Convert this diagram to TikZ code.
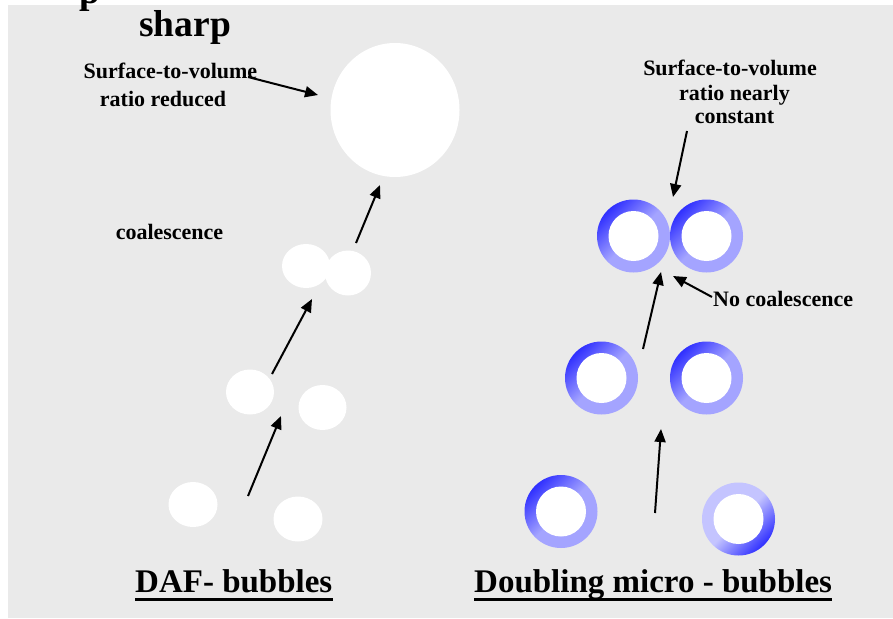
\documentclass[tikz,border=0pt]{standalone}
\usepackage{fontspec}
\setmainfont{Liberation Serif}
\usetikzlibrary{arrows.meta,shapes.geometric}
\definecolor{panel}{HTML}{EAEAEA}
\definecolor{ringdark}{HTML}{3030FF}
\definecolor{ringlight}{HTML}{A4A4FF}
\definecolor{ringpale}{HTML}{C4C4FF}
\begin{document}
\begin{tikzpicture}[x=1pt,y=-1pt,
  lbl/.style={inner sep=0pt, anchor=base, font=\bfseries\fontsize{22}{26}\selectfont},
  heading/.style={inner sep=0pt, anchor=base west, font=\bfseries\fontsize{33}{40}\selectfont},
  bubble/.style={ellipse, fill=white, draw=none, inner sep=0pt},
  ring/.style={circle, inner sep=0pt, minimum size=73pt, top color=ringdark,
    bottom color=ringlight, middle color=ringlight, shading angle=45},
  ringflip/.style={circle, inner sep=0pt, minimum size=73pt, top color=ringdark,
    bottom color=ringpale, middle color=ringpale, shading angle=225},
  arr/.style={line width=2pt, -{Triangle[length=13pt,width=11pt]}},
  uline/.style={line width=3pt}]
\useasboundingbox (0,0) rectangle (893,618);
\fill[panel] (8,5) rectangle (893,618);

% heading remnants
\node[inner sep=0pt, anchor=base west, font=\bfseries\fontsize{37.5}{40}\selectfont] (ptail) at (79,4) {p};
\node[inner sep=0pt, anchor=base west, font=\bfseries\fontsize{37.5}{40}\selectfont] (sharp) at (139,37) {sharp};

% left column: DAF bubbles
\node[lbl] (sv1) at (170.5,78) {Surface-to-volume};
\node[lbl] (sv2) at (163,106) {ratio reduced};
\node[lbl] (coal) at (169.5,239) {coalescence};

\node[bubble, minimum width=129pt, minimum height=134pt] (big) at (395,110) {};
\node[bubble, minimum width=48pt, minimum height=44pt] (pa) at (306,266) {};
\node[bubble, minimum width=46pt, minimum height=45pt] (pb) at (348,273) {};
\node[bubble, minimum width=48pt, minimum height=45pt] (ma) at (250,392) {};
\node[bubble, minimum width=48pt, minimum height=45pt] (mb) at (322.5,407.5) {};
\node[bubble, minimum width=49pt, minimum height=45pt] (ba) at (193,504.5) {};
\node[bubble, minimum width=49pt, minimum height=45pt] (bb) at (298,519) {};

\coordinate (svfrom) at (248,77);
\coordinate (svto) at (318,95);
\coordinate (a1s) at (248,496);
\coordinate (a1e) at (281,416);
\coordinate (a2s) at (272,374);
\coordinate (a2e) at (312,299);
\coordinate (a3s) at (356,243);
\coordinate (a3e) at (380,185);
\draw[arr] (svfrom) -- (svto);
\draw[arr] (a1s) -- (a1e);
\draw[arr] (a2s) -- (a2e);
\draw[arr] (a3s) -- (a3e);

% right column: doubling micro-bubbles
\node[lbl] (rt1) at (730,75) {Surface-to-volume};
\node[lbl] (rt2) at (734.5,100) {ratio nearly};
\node[lbl] (rt3) at (734.5,123) {constant};
\node[lbl, anchor=base west] (nocoal) at (713,306) {No coalescence};

\node[ring] (r1) at (633.5,236) {};
\node[ring] (r2) at (706.5,236) {};
\node[ring] (r3) at (601.5,378) {};
\node[ring] (r4) at (706.5,378) {};
\node[ring] (r5) at (561,511.5) {};
\node[ringflip] (r6) at (738.5,519) {};
\foreach \r in {r1,r2,r3,r4,r5,r6} \fill[white] (\r) circle (25);

\coordinate (b1s) at (687,131);
\coordinate (b1e) at (673,197);
\coordinate (b2s) at (643,349);
\coordinate (b2e) at (661,272);
\coordinate (b3s) at (712,297);
\coordinate (b3e) at (673,276);
\coordinate (b4s) at (655,513);
\coordinate (b4e) at (661,429);
\draw[arr] (b1s) -- (b1e);
\draw[arr] (b2s) -- (b2e);
\draw[arr] (b3s) -- (b3e);
\draw[arr] (b4s) -- (b4e);

% captions
\node[heading] (daf) at (135,592) {DAF- bubbles};
\node[heading] (dbl) at (474,592) {Doubling micro - bubbles};
\draw[uline] ([yshift=-7.5pt]daf.base west) -- ([yshift=-7.5pt]daf.base east);
\draw[uline] ([yshift=-7.5pt]dbl.base west) -- ([yshift=-7.5pt]dbl.base east);
\end{tikzpicture}
\end{document}
